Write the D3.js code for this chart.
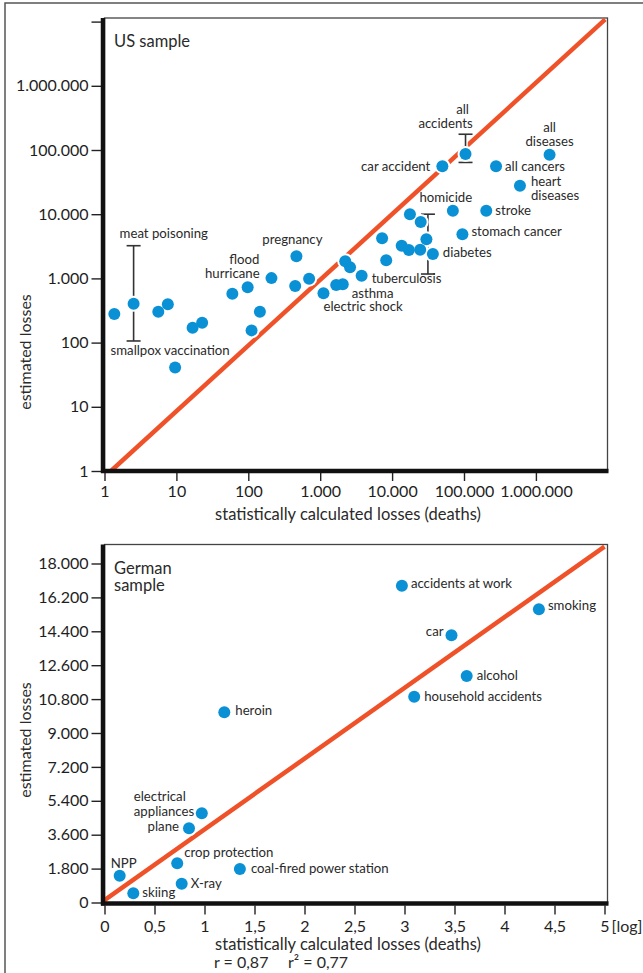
<!DOCTYPE html>
<html>
<head>
<meta charset="utf-8">
<script src="https://cdn.jsdelivr.net/npm/d3@7"></script>
<style>
  body { margin: 0; background: #fff; }
  text { font-family: Lato, "Open Sans", sans-serif; fill: #2a2a2a; }
  .tick text { fill: #1e1e1e; }
</style>
</head>
<body>
<script>
// US sample (log-log)
const usNames = ["all accidents", "car accident", "all cancers", "all diseases", "heart diseases",
  "homicide", "stroke", "stomach cancer", "diabetes", "", "", "", "", "", "", "", "",
  "tuberculosis", "", "", "asthma", "", "electric shock", "", "", "pregnancy", "flood",
  "hurricane", "", "", "", "", "", "smallpox vaccination", "", "", "meat poisoning", ""];
const usStatistical = [105000, 50000, 279000, 1550000, 600000, 70000, 204000, 95000, 36900,
  17700, 25000, 30000, 24600, 17100, 13600, 7260, 8280, 3770, 2600, 2230, 2060, 1670, 1110,
  701, 449, 467, 210, 98, 60, 145, 111, 22.8, 16.8, 9.6, 7.6, 5.6, 2.54, 1.37];
const usEstimated = [87000, 56000, 56000, 84000, 27800, 11350, 11350, 4860, 2400, 10000, 7550,
  4060, 2800, 2770, 3230, 4220, 1910, 1100, 1490, 1850, 809, 789, 586, 989, 762, 2210, 1010,
  727, 578, 303, 155, 204, 171, 41, 395, 303, 403, 279];
const usErrorX = [105000, 31500, 2.54];
const usErrorLow = [64000, 1170, 106];
const usErrorHigh = [176000, 10000, 3230];
const usLineX = [1.23, 9.2e6];
const usLineY = [1, 1.08e7];
const usTicksX = [1, 10, 100, 1000, 10000, 100000, 1000000];
const usTicksY = [1, 10, 100, 1000, 10000, 100000, 1000000, 10000000];

// German sample (estimated vs log of statistical)
const deNames = ["accidents at work", "smoking", "car", "alcohol", "household accidents", "heroin",
  "electrical appliances", "plane", "crop protection", "coal-fired power station", "X-ray", "NPP", "skiing"];
const deStatistical = [2.974, 4.344, 3.47, 3.622, 3.097, 1.198, 0.973, 0.845, 0.727, 1.354, 0.772, 0.152, 0.288];
const deEstimated = [16820, 15570, 14190, 12030, 10930, 10100, 4736, 3940, 2081, 1779, 998, 1423, 488];
const deLineX = [0, 5.0];
const deLineY = [130, 18900];
const deTicksX = [0, 0.5, 1, 1.5, 2, 2.5, 3, 3.5, 4, 4.5, 5];
const deTicksY = [0, 1800, 3600, 5400, 7200, 9000, 10800, 12600, 14400, 16200, 18000];
const correlation = "r = 0,87";
const determination = "r\u00b2 = 0,77";

// label placement: [text, dx, dy, anchor] relative to the dot
const usLabelPos = {
  "all accidents": [["all", -3, -40, "middle"], ["accidents", -20, -26, "middle"]],
  "car accident": [["car accident", -12, 5, "end"]],
  "all cancers": [["all cancers", 9, 5, "start"]],
  "all diseases": [["all", 0, -23, "middle"], ["diseases", 0, -9, "middle"]],
  "heart diseases": [["heart", 11, 0, "start"], ["diseases", 11, 14, "start"]],
  "homicide": [["homicide", -7, -9, "middle"]],
  "stroke": [["stroke", 9, 4, "start"]],
  "stomach cancer": [["stomach cancer", 9, 2, "start"]],
  "diabetes": [["diabetes", 10, 3, "start"]],
  "tuberculosis": [["tuberculosis", 10, 7, "start"]],
  "asthma": [["asthma", 9, 14, "start"]],
  "electric shock": [["electric shock", 0, 18, "start"]],
  "pregnancy": [["pregnancy", -4, -12, "middle"]],
  "flood": [["flood", -12, -14, "end"]],
  "hurricane": [["hurricane", 12, -9, "end"]],
  "meat poisoning": [["meat poisoning", -14, -66, "start"]],
  "smallpox vaccination": [["smallpox vaccination", -5, -12, "middle"]]
};
const deLabelPos = {
  "accidents at work": [["accidents at work", 9, 2, "start"]],
  "smoking": [["smoking", 9, 1, "start"]],
  "car": [["car", -8, 1, "end"]],
  "alcohol": [["alcohol", 10, 4, "start"]],
  "household accidents": [["household accidents", 10, 4, "start"]],
  "heroin": [["heroin", 11, 3, "start"]],
  "electrical appliances": [["electrical", -68, -12, "start"], ["appliances", -68, 3, "start"]],
  "plane": [["plane", -10, 3, "end"]],
  "crop protection": [["crop protection", 7, -6, "start"]],
  "coal-fired power station": [["coal-fired power station", 11, 4, "start"]],
  "X-ray": [["X-ray", 9, 4, "start"]],
  "NPP": [["NPP", -9, -8, "start"]],
  "skiing": [["skiing", 9, 4, "start"]]
};

const W = 643, H = 973;
const lineColor = "#ef5128";
const dotColor = "#0a90d4";
const de = d3.formatLocale({ decimal: ",", thousands: ".", grouping: [3], currency: ["", ""] });

const svg = d3.select("body").append("svg").attr("width", W).attr("height", H);

// outer frame
svg.append("rect").attr("x", 5).attr("y", 3).attr("width", W + 20).attr("height", H + 20)
  .attr("fill", "none").attr("stroke", "#555").attr("stroke-width", 1.5);

function panel(cfg) {
  const g = svg.append("g");
  const { x, y, left, right, top, bottom } = cfg;

  // thin frame (top/right)
  g.append("rect").attr("x", left).attr("y", top).attr("width", right - left).attr("height", bottom - top)
    .attr("fill", "none").attr("stroke", "#444").attr("stroke-width", 1.3);

  const clipId = "clip" + cfg.id;
  g.append("clipPath").attr("id", clipId).append("rect")
    .attr("x", left).attr("y", top).attr("width", right - left).attr("height", bottom - top);

  g.append("line").attr("clip-path", `url(#${clipId})`)
    .attr("x1", x(cfg.lineX[0])).attr("y1", y(cfg.lineY[0]))
    .attr("x2", x(cfg.lineX[1])).attr("y2", y(cfg.lineY[1]))
    .attr("stroke", lineColor).attr("stroke-width", 4.5);

  // error bars
  if (cfg.errX) {
    cfg.errX.forEach((ex, i) => {
      const cx = x(ex), y1 = y(cfg.errLo[i]), y2 = y(cfg.errHi[i]);
      const eb = g.append("g").attr("stroke", "#333").attr("stroke-width", 1.6);
      eb.append("line").attr("x1", cx).attr("x2", cx).attr("y1", y1).attr("y2", y2)
        .attr("stroke", "#fff").attr("stroke-width", 4.5);
      eb.append("line").attr("x1", cx).attr("x2", cx).attr("y1", y1).attr("y2", y2);
      eb.append("line").attr("x1", cx - 7).attr("x2", cx + 7).attr("y1", y1).attr("y2", y1);
      eb.append("line").attr("x1", cx - 7).attr("x2", cx + 7).attr("y1", y2).attr("y2", y2);
    });
  }

  const pts = cfg.names.map((n, i) => ({ name: n, sx: cfg.stat[i], ey: cfg.est[i] }));

  // white halo, then the dot
  g.selectAll("circle.halo")
    .data(pts)
    .enter()
    .append("circle")
    .attr("class", "halo")
    .attr("cx", d => x(d.sx))
    .attr("cy", d => y(d.ey))
    .attr("r", 8)
    .attr("fill", "#fff");

  g.selectAll("circle.dot")
    .data(pts)
    .enter()
    .append("circle")
    .attr("class", "dot")
    .attr("cx", d => x(d.sx))
    .attr("cy", d => y(d.ey))
    .attr("r", 6)
    .attr("fill", dotColor);

  pts.filter(d => cfg.labels[d.name]).forEach(d => {
    cfg.labels[d.name].forEach(([t, dx, dy, anchor]) => {
      g.append("text")
        .attr("x", x(d.sx) + dx)
        .attr("y", y(d.ey) + dy)
        .attr("text-anchor", anchor)
        .attr("font-size", 13.2)
        .text(t);
    });
  });

  // axes
  const yAxis = d3.axisLeft(y).tickValues(cfg.ticksY).tickSize(10).tickPadding(3).tickFormat(cfg.fmtY);
  const gy = g.append("g").attr("transform", `translate(${left - 3},0)`).call(yAxis);
  const xAxis = d3.axisBottom(x).tickValues(cfg.ticksX).tickSize(cfg.xTickSize).tickPadding(cfg.xPad).tickFormat(cfg.fmtX);
  const gx = g.append("g").attr("transform", `translate(0,${bottom + 2})`).call(xAxis);
  [gx, gy].forEach(a => {
    a.select(".domain").remove();
    a.selectAll(".tick line").attr("stroke", "#222").attr("stroke-width", 1.4);
    a.selectAll(".tick text").attr("font-size", 16).attr("font-family", "Lato, sans-serif");
  });

  // thick left and bottom axis lines
  g.append("line").attr("x1", left - 1.5).attr("x2", left - 1.5).attr("y1", top).attr("y2", bottom + 2)
    .attr("stroke", "#111").attr("stroke-width", 4.5);
  g.append("line").attr("x1", left - 3.5).attr("x2", right + 1).attr("y1", bottom).attr("y2", bottom)
    .attr("stroke", "#111").attr("stroke-width", 4.5);

  g.append("text").attr("x", 114).attr("y", cfg.titleY).attr("font-size", 16.5)
    .selectAll("tspan").data(cfg.title).enter().append("tspan")
    .attr("x", 114).attr("dy", (d, i) => i ? 17 : 0).text(d => d);

  g.append("text")
    .attr("transform", `translate(31,${cfg.yTitleY}) rotate(-90)`)
    .attr("text-anchor", "middle").attr("font-size", 16)
    .text("estimated losses");

  g.append("text").attr("x", 348).attr("y", cfg.xTitleY).attr("text-anchor", "middle")
    .attr("font-size", 16.5).text("statistically calculated losses (deaths)");
  return g;
}

const xUS = d3.scaleLog().domain([1, 1e7]).range([104.5, 607.8]);
const yUS = d3.scaleLog().domain([1, 1e7]).range([471, 21.6]);
panel({
  id: "us", x: xUS, y: yUS, left: 104.5, right: 607.5, top: 18, bottom: 471,
  names: usNames, stat: usStatistical, est: usEstimated, labels: usLabelPos,
  errX: usErrorX, errLo: usErrorLow, errHi: usErrorHigh,
  lineX: usLineX, lineY: usLineY,
  ticksX: usTicksX, ticksY: usTicksY, xTickSize: 8, xPad: 5,
  fmtX: de.format(",.0f"), fmtY: d => d >= 1e7 ? "" : de.format(",.0f")(d),
  title: ["US sample"], titleY: 47, yTitleY: 352, xTitleY: 520
});

const xDE = d3.scaleLinear().domain([0, 5.03]).range([104.5, 607.5]);
const yDE = d3.scaleLinear().domain([0, 19035]).range([902.5, 544]);
const deG = panel({
  id: "de", x: xDE, y: yDE, left: 104.5, right: 607.5, top: 544.5, bottom: 903.5,
  names: deNames, stat: deStatistical, est: deEstimated, labels: deLabelPos,
  lineX: deLineX, lineY: deLineY,
  ticksX: deTicksX, ticksY: deTicksY, xTickSize: 9, xPad: 6,
  fmtX: de.format(".1~f"), fmtY: de.format(",.0f"),
  title: ["German", "sample"], titleY: 574, yTitleY: 740, xTitleY: 950
});

deG.append("text").attr("x", xDE(5) + 7).attr("y", 932).attr("font-size", 16).attr("fill", "#1e1e1e").text("[log]");
deG.append("text").attr("x", 214).attr("y", 968).attr("font-size", 16).text(correlation);
deG.append("text").attr("x", 288).attr("y", 968).attr("font-size", 16).text(determination);
</script>
</body>
</html>
